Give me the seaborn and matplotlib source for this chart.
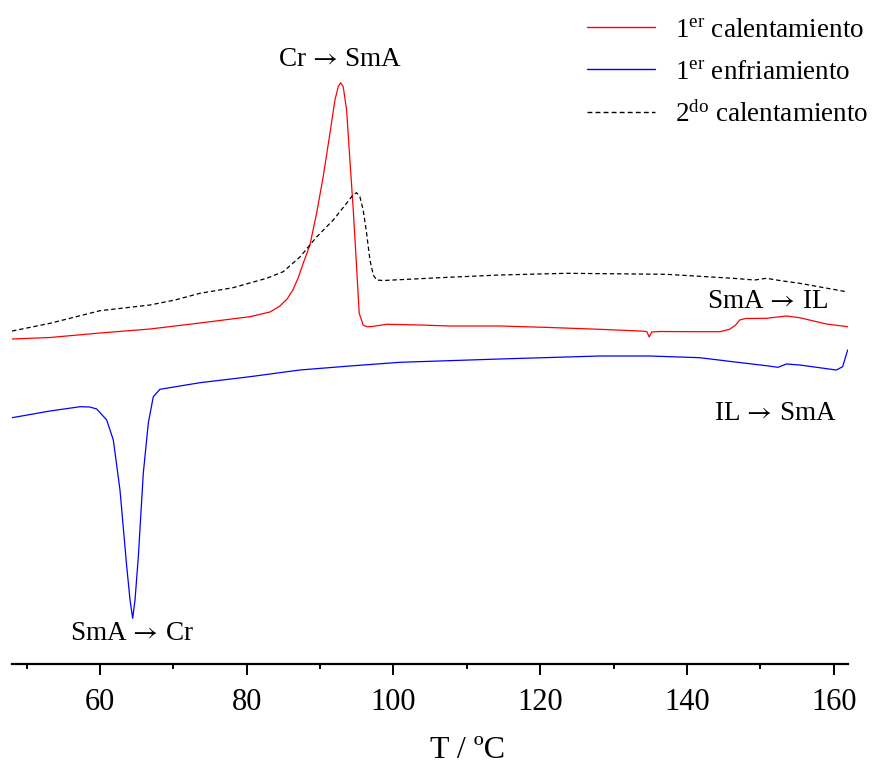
import numpy as np
import pandas as pd
import matplotlib
matplotlib.use("Agg")
import matplotlib.pyplot as plt
import seaborn as sns

# ---- data (T in °C, heat flow in arbitrary units) ----
heat1_T = [48.01, 53.19, 60.00, 66.81, 73.62, 80.44, 83.16, 84.52, 85.50, 86.29, 87.00, 87.70,
           88.61, 89.52, 90.42, 91.34, 92.02, 92.47, 92.80, 93.15, 93.61, 94.06,
           94.52, 94.97, 95.33, 95.87, 96.34, 97.06, 99.09, 103.62, 107.68, 114.50,
           121.31, 128.12, 133.57, 134.52, 134.86, 135.20, 136.29, 141.74, 144.47, 145.83,
           146.65, 147.19, 148.01, 150.83, 153.56, 155.37, 159.01, 161.91]
heat1_Q = [325, 326.5, 331, 335, 341, 347.3, 352, 358, 365, 374, 386, 400.7,
           419, 450.7, 487.3, 530.7, 564, 577.3, 581.3, 577.3, 554, 504,
           454, 397.3, 350.7, 339, 337.3, 337.5, 339.7, 339, 338, 338,
           336.5, 334.7, 333, 332.5, 327, 332, 332.5, 332.3, 332.3, 334.7,
           339, 344, 345.5, 345.7, 348, 346.3, 340, 337.3]

cool1_T = [48.01, 53.19, 57.28, 58.60, 59.55, 60.91, 61.81, 62.72, 63.64, 64.09, 64.45,
           64.77, 65.22, 65.90, 66.58, 67.26, 68.17, 73.62, 80.44, 87.25, 94.06,
           100.87, 114.50, 128.12, 134.93, 141.74, 146.24, 150.83, 152.41, 153.56, 155.37,
           160.37, 161.23, 161.91]
cool1_Q = [246.3, 253, 257.3, 257, 255, 244, 224, 174, 97.3, 64, 45.7,
           64, 107.3, 191, 241, 267.3, 274.7, 281.3, 287.3, 294, 298,
           301.7, 305, 308, 308, 306.3, 302.3, 298.3, 296.7, 300, 299,
           294, 297.3, 314]

heat2_T = [48.01, 53.19, 60.00, 66.81, 70.22, 73.62, 78.12, 82.71, 84.97, 87.25,
           89.52, 91.79, 93.61, 94.47, 94.97, 95.42, 95.87, 96.34, 96.79, 97.25,
           97.70, 98.60, 100.00, 106.32, 114.50, 123.58, 137.21, 146.28, 149.24, 150.83,
           152.64, 155.37, 161.73]
heat2_Q = [333, 340.7, 353.3, 359, 364, 370.7, 376.3, 385.7, 392.3, 407,
           427, 444, 460.7, 469, 471.3, 467.3, 454, 430.7, 404, 389,
           384, 383.5, 384, 386.3, 389, 390.7, 389.7, 385.7, 384, 385.7,
           383.5, 380.7, 372.3]

series_labels = [r"1$^{\mathrm{er}}$ calentamiento",
                 r"1$^{\mathrm{er}}$ enfriamiento",
                 r"2$^{\mathrm{do}}$ calentamiento"]
transition_labels = [r"Cr$\,\rightarrow\,$SmA", r"SmA$\,\rightarrow\,$IL",
                     r"IL$\,\rightarrow\,$SmA", r"SmA$\,\rightarrow\,$Cr"]
transition_T = [92.7, 151.0, 152.1, 64.4]
transition_Q = [604, 362, 251, 31]
xticks_major = [60, 80, 100, 120, 140, 160]
xticks_minor = [50, 70, 90, 110, 130, 150]
xlabel = "T / ºC"

# ---- style ----
sns.set_theme(style="white")
plt.rcParams["font.family"] = ["Liberation Serif", "DejaVu Serif"]
plt.rcParams["mathtext.fontset"] = "custom"
plt.rcParams["mathtext.rm"] = "Liberation Serif"
plt.rcParams["mathtext.it"] = "Liberation Serif:italic"
plt.rcParams["mathtext.bf"] = "Liberation Serif:bold"
plt.rcParams["text.color"] = "black"
plt.rcParams["axes.labelcolor"] = "black"

df = pd.concat([
    pd.DataFrame({"T": heat1_T, "Q": heat1_Q, "serie": series_labels[0]}),
    pd.DataFrame({"T": cool1_T, "Q": cool1_Q, "serie": series_labels[1]}),
    pd.DataFrame({"T": heat2_T, "Q": heat2_Q, "serie": series_labels[2]}),
], ignore_index=True)

fig = plt.figure(figsize=(8.72, 7.64), dpi=100)
ax = fig.add_axes([12 / 872, 100 / 764, 836.3 / 872, 664 / 764])

colors = ["#ff0000", "#0000ff", "#000000"]
for i, (lab, col) in enumerate(zip(series_labels, colors)):
    sub = df[df["serie"] == lab]
    sns.lineplot(data=sub, x="T", y="Q", ax=ax, color=col, sort=False,
                 label=lab, estimator=None, lw=0.9)
    if i == 2:
        ax.lines[-1].set_dashes((3.5, 2.3))

ax.set_xlim(48, 162)
ax.set_ylim(0, 664)
ax.set_xticks(xticks_major)
ax.set_xticks(xticks_minor, minor=True)
ax.set_yticks([])
ax.set_ylabel("")
ax.set_xlabel(xlabel, fontsize=23, color="black")
ax.xaxis.label.set_va("center")
ax.xaxis.set_label_coords((468 - 12) / 836.3, -(750 - 664) / 664)
for s in ["top", "left", "right"]:
    ax.spines[s].set_visible(False)
ax.spines["bottom"].set_linewidth(1.6)
ax.spines["bottom"].set_color("black")
ax.tick_params(axis="x", which="major", direction="out", length=8, width=1.4,
               labelsize=22, pad=9, colors="black", bottom=True)
ax.tick_params(axis="x", which="minor", direction="out", length=3.6, width=1.4,
               bottom=True, colors="black")

for txt, tx, ty in zip(transition_labels, transition_T, transition_Q):
    t = ax.text(tx, ty, txt, fontsize=19.5, ha="center", va="center", color="black")
    t.set_math_fontfamily("stix")

leg = ax.legend(loc="upper right", bbox_to_anchor=(1.053, 1.01), frameon=False,
                fontsize=19.5, handlelength=2.5, handletextpad=0.75, labelspacing=0.62)
for h in leg.get_lines():
    h.set_linewidth(1.0)
for t in leg.get_texts():
    t.set_color("black")
leg.get_lines()[2].set_dashes((3.5, 2.3))

fig.savefig("out.png", dpi=100)
